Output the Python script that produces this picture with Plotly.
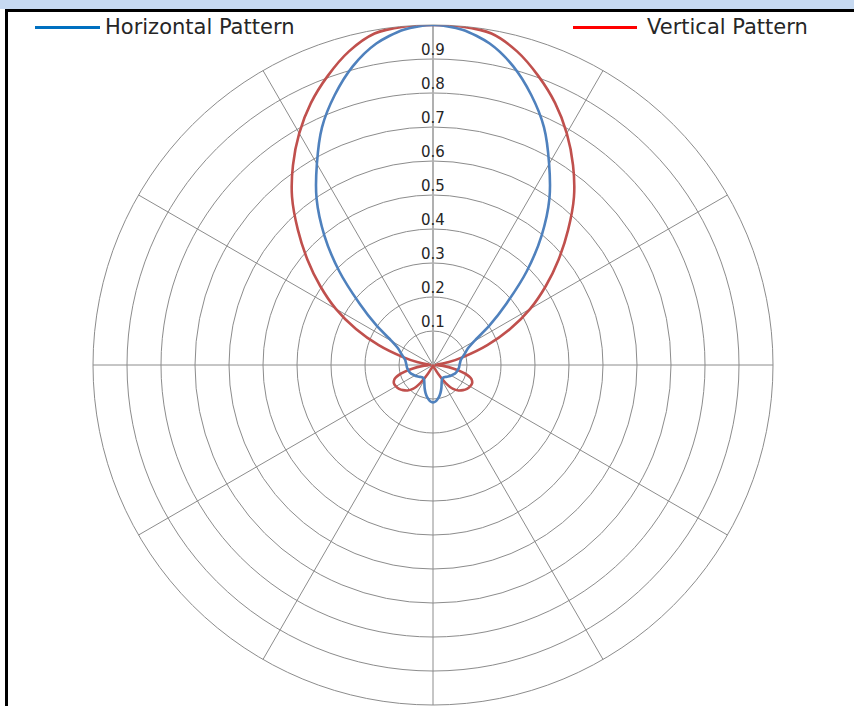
import plotly.graph_objects as go

W, H = 854, 706

# angles (deg, 0 = top, clockwise)
theta = list(range(0, 360, 5)) + [360]

horizontal = [
    1.000, 0.990, 0.960, 0.910, 0.845, 0.772, 0.683, 0.597, 0.497, 0.390,
    0.283, 0.203, 0.140, 0.112, 0.100, 0.090, 0.083, 0.080, 0.078, 0.077,
    0.075, 0.073, 0.070, 0.066, 0.062, 0.058, 0.054, 0.050, 0.048, 0.048,
    0.052, 0.060, 0.072, 0.085, 0.097, 0.106, 0.110,
    0.106, 0.097, 0.085, 0.072, 0.060, 0.052, 0.048, 0.048, 0.050, 0.054,
    0.058, 0.062, 0.066, 0.070, 0.073, 0.075, 0.077, 0.078, 0.080, 0.083,
    0.090, 0.100, 0.112, 0.140, 0.203, 0.283, 0.390, 0.497, 0.597, 0.683,
    0.772, 0.845, 0.910, 0.960, 0.990, 1.000,
]

vertical = [
    1.000, 0.999, 0.990, 0.955, 0.905, 0.850, 0.787, 0.718, 0.645, 0.562,
    0.482, 0.405, 0.330, 0.250, 0.170, 0.095, 0.045, 0.012, 0.008, 0.030,
    0.062, 0.098, 0.120, 0.127, 0.126, 0.122, 0.115, 0.106, 0.092, 0.064,
    0.030, 0.010, 0.005, 0.003, 0.002, 0.002, 0.002,
    0.002, 0.002, 0.003, 0.005, 0.010, 0.030, 0.064, 0.092, 0.106, 0.115,
    0.122, 0.126, 0.127, 0.120, 0.098, 0.062, 0.030, 0.008, 0.012, 0.045,
    0.095, 0.170, 0.250, 0.330, 0.405, 0.482, 0.562, 0.645, 0.718, 0.787,
    0.850, 0.905, 0.955, 0.990, 0.999, 1.000,
]

radial_ticks = [0.1, 0.2, 0.3, 0.4, 0.5, 0.6, 0.7, 0.8, 0.9]
radial_labels = ["0.1", "0.2", "0.3", "0.4", "0.5", "0.6", "0.7", "0.8", "0.9"]
series_names = ["Horizontal Pattern", "Vertical Pattern"]
line_colors = ["#4F81BD", "#C0504D"]
legend_colors = ["#0070C0", "#FF0000"]

fig = go.Figure()
fig.add_trace(go.Scatterpolar(
    r=vertical, theta=theta, mode="lines", name=series_names[1],
    line=dict(color=line_colors[1], width=2.6, shape="spline", smoothing=0.8),
    showlegend=False, hoverinfo="skip"))
fig.add_trace(go.Scatterpolar(
    r=horizontal, theta=theta, mode="lines", name=series_names[0],
    line=dict(color=line_colors[0], width=2.6, shape="spline", smoothing=0.8),
    showlegend=False, hoverinfo="skip"))
fig.add_trace(go.Scatterpolar(
    r=radial_ticks, theta=[0] * len(radial_ticks), mode="text",
    text=radial_labels, textposition="top center",
    textfont=dict(family="DejaVu Sans", size=15, color="#262626"),
    showlegend=False, hoverinfo="skip"))

def px(x):
    return x / W

def py(y):
    return 1 - y / H

shapes = [
    dict(type="rect", xref="paper", yref="paper", x0=0, x1=1, y0=py(9), y1=1.01,
         fillcolor="#C6D9F1", line=dict(width=0), layer="above"),
    dict(type="line", xref="paper", yref="paper", x0=px(5), x1=1.01, y0=py(10.5), y1=py(10.5),
         line=dict(color="black", width=3)),
    dict(type="line", xref="paper", yref="paper", x0=px(6.5), x1=px(6.5), y0=py(9), y1=-0.01,
         line=dict(color="black", width=3)),
    dict(type="line", xref="paper", yref="paper", x0=px(35), x1=px(100), y0=py(27.5), y1=py(27.5),
         line=dict(color=legend_colors[0], width=3)),
    dict(type="line", xref="paper", yref="paper", x0=px(573), x1=px(637), y0=py(27.5), y1=py(27.5),
         line=dict(color=legend_colors[1], width=3)),
]

annotations = [
    dict(text=series_names[0], x=px(103), y=py(27), xref="paper", yref="paper",
         xanchor="left", yanchor="middle", showarrow=False,
         font=dict(family="DejaVu Sans", size=21, color="#262626")),
    dict(text=series_names[1], x=px(645), y=py(27), xref="paper", yref="paper",
         xanchor="left", yanchor="middle", showarrow=False,
         font=dict(family="DejaVu Sans", size=21, color="#262626")),
    dict(text="(Normalized Gain)", x=px(446), y=py(4), xref="paper", yref="paper",
         xanchor="center", yanchor="bottom", showarrow=False,
         font=dict(family="DejaVu Sans", size=21, color="black")),
]

fig.update_layout(
    width=W, height=H,
    margin=dict(l=0, r=0, t=0, b=0),
    paper_bgcolor="white", plot_bgcolor="white",
    showlegend=False,
    shapes=shapes, annotations=annotations,
    polar=dict(
        domain=dict(x=[px(93), px(773)], y=[py(705), py(25)]),
        bgcolor="white",
        radialaxis=dict(range=[0, 1], dtick=0.1, showticklabels=False, ticks="",
                        gridcolor="#8C8C8C", gridwidth=1, angle=90,
                        showline=True, linecolor="#B0B0B0", linewidth=2, layer="below traces"),
        angularaxis=dict(rotation=90, direction="clockwise", dtick=30,
                         showticklabels=False, ticks="",
                         gridcolor="#8C8C8C", gridwidth=1,
                         showline=True, linecolor="#8C8C8C", linewidth=1, layer="below traces"),
    ),
)

fig.write_html("out.html",
               config=dict(displayModeBar=False),
               post_script="document.body.style.margin='0';document.body.style.padding='0';")
